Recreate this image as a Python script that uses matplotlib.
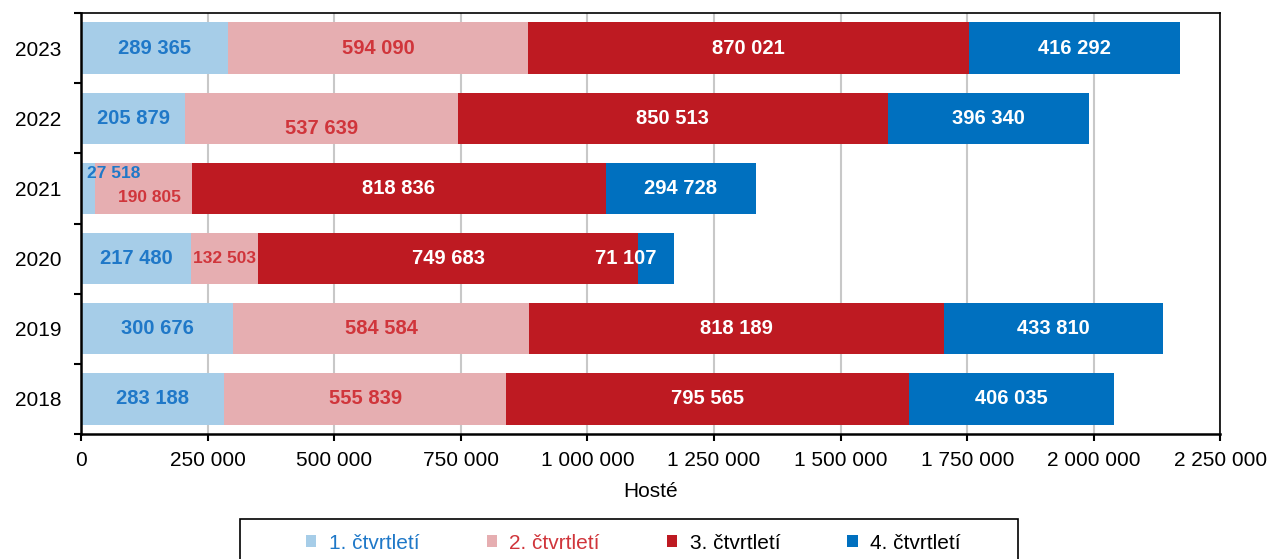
import numpy as np
import matplotlib.pyplot as plt
from matplotlib.patches import Rectangle
from matplotlib.ticker import FuncFormatter, FixedLocator

plt.rcParams['font.family'] = ['Liberation Sans', 'DejaVu Sans']

years = ['2018', '2019', '2020', '2021', '2022', '2023']
q1 = [283188, 300676, 217480, 27518, 205879, 289365]
q2 = [555839, 584584, 132503, 190805, 537639, 594090]
q3 = [795565, 818189, 749683, 818836, 850513, 870021]
q4 = [406035, 433810, 71107, 294728, 396340, 416292]
names = ['1. čtvrtletí', '2. čtvrtletí', '3. čtvrtletí', '4. čtvrtletí']

colors = ['#a6cde8', '#e6aeb1', '#be1a22', '#0070bf']
txtcol = ['#1f78c8', '#d0353b', 'white', 'white']

def fmt(v):
    return '{:,}'.format(int(v)).replace(',', ' ')

fig = plt.figure(figsize=(12.74, 5.59), dpi=100)
ax = fig.add_axes([0.0636, 0.2236, 0.8944, 0.7531])

y = np.arange(len(years))
series = [q1, q2, q3, q4]
left = np.zeros(len(years))
bars = []
for k, s in enumerate(series):
    s = np.array(s, dtype=float)
    b = ax.barh(y, s, left=left, height=0.73, color=colors[k], label=names[k], zorder=2)
    bars.append(b)
    for i in range(len(years)):
        xc = left[i] + s[i] / 2
        yc = y[i]
        fs = 14.5
        ha = 'center'
        # special placements for crowded rows
        if years[i] == '2022' and k == 1:
            yc = y[i] - 0.15
        if years[i] == '2021' and k == 0:
            xc, yc, ha, fs = 12000, y[i] + 0.21, 'left', 12.5
        if years[i] == '2021' and k == 1:
            xc, yc, fs = left[i] + s[i] / 2 + 13000, y[i] - 0.13, 12.5
        if years[i] == '2020' and k == 1:
            fs = 12.5
        if years[i] == '2020' and k == 3:
            xc = left[i] - 24000
        ax.text(xc, yc, fmt(s[i]), ha=ha, va='center', color=txtcol[k],
                fontsize=fs, fontweight='bold', zorder=3)
    left = left + s

ax.set_xlim(0, 2250000)
ax.set_ylim(-0.5, len(years) - 0.5)
ax.xaxis.set_major_locator(FixedLocator(np.arange(0, 2250001, 250000)))
ax.xaxis.set_major_formatter(FuncFormatter(lambda v, p: fmt(v)))
ax.set_yticks(y)
ax.set_yticklabels(years)
ax.set_yticks(np.arange(-0.5, len(years), 1.0), minor=True)
ax.tick_params(axis='y', which='major', length=0, labelsize=15, pad=14)
ax.tick_params(axis='y', which='minor', length=5, width=1.5, direction='out')
ax.tick_params(axis='x', which='major', length=5, width=1.5, direction='out', labelsize=15, pad=7)
ax.grid(axis='x', color='#c8c8c8', linewidth=1.5, zorder=0)
ax.set_axisbelow(True)
for sp in ['top', 'right']:
    ax.spines[sp].set_linewidth(1.2)
for sp in ['left', 'bottom']:
    ax.spines[sp].set_linewidth(1.8)
ax.set_xlabel('Hosté', fontsize=15, labelpad=9)

# legend box (runs off the bottom edge as in the original)
fig.patches.append(Rectangle((240 / 1274, -0.1), 778 / 1274, 40 / 559 + 0.1,
                             transform=fig.transFigure, fill=False,
                             edgecolor='black', linewidth=1.2))
leg = fig.legend(handles=bars, labels=names, loc='center',
                 bbox_to_anchor=(306 / 1274, 0.0286 - 0.02, 655 / 1274, 0.04),
                 mode='expand', ncol=4, fontsize=15, frameon=False,
                 handlelength=0.5, handleheight=0.5, borderpad=0,
                 borderaxespad=0, handletextpad=0.6)
for t, c in zip(leg.get_texts(), txtcol[:2] + ['black', 'black']):
    t.set_color(c)

fig.savefig('out.png', dpi=100)
